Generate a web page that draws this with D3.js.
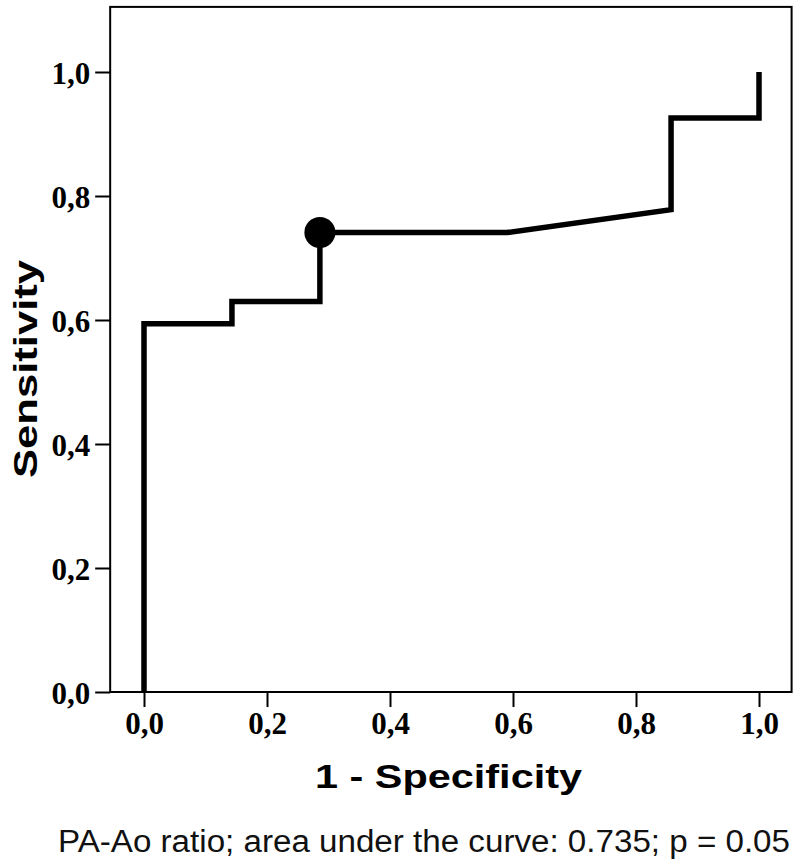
<!DOCTYPE html>
<html>
<head>
<meta charset="utf-8">
<script src="https://cdn.jsdelivr.net/npm/d3@7"></script>
<style>
  html, body { margin: 0; padding: 0; background: #fff; }
  svg { display: block; }
</style>
</head>
<body>
<svg id="chart" width="800" height="868"></svg>
<script>
// ROC curve points (1 - specificity, sensitivity)
const fpr = [0, 0, 0.143, 0.143, 0.286, 0.286, 0.59, 0.857, 0.857, 1, 1];
const tpr = [0, 0.594, 0.594, 0.63, 0.63, 0.741, 0.741, 0.778, 0.926, 0.926, 1];
// Optimal cut-off point
const cutX = [0.286];
const cutY = [0.741];
// Ticks
const xTicks = [0, 0.2, 0.4, 0.6, 0.8, 1.0];
const yTicks = [0, 0.2, 0.4, 0.6, 0.8, 1.0];
const tickLabel = v => v.toFixed(1).replace(".", ",");
const xTitle = "1 - Specificity";
const yTitle = "Sensitivity";
const caption = "PA-Ao ratio; area under the curve: 0.735; p = 0.05";

const svg = d3.select("#chart");
const x = d3.scaleLinear().domain([0, 1]).range([144, 759]);
const y = d3.scaleLinear().domain([0, 1]).range([692, 72]);

// frame extent in data units
const xMin = -0.055, xMax = 1.053, yMin = 0, yMax = 1.105;

// frame
svg.append("rect")
  .attr("x", x(xMin)).attr("y", y(yMax))
  .attr("width", x(xMax) - x(xMin)).attr("height", y(yMin) - y(yMax))
  .attr("fill", "none").attr("stroke", "#000").attr("stroke-width", 2);

// y axis
const yAxis = d3.axisLeft(y).tickValues(yTicks).tickFormat(tickLabel).tickSize(15).tickPadding(5);
const gy = svg.append("g").attr("transform", `translate(${x(xMin)},0)`).call(yAxis);
gy.select(".domain").remove();
gy.selectAll(".tick line").attr("stroke", "#000").attr("stroke-width", 2);
gy.selectAll(".tick text")
  .attr("font-family", "'Liberation Serif', 'Times New Roman', serif")
  .attr("font-weight", "bold").attr("font-size", 31).attr("fill", "#000")
  .attr("dy", "0.36em");

// x axis
const xAxis = d3.axisBottom(x).tickValues(xTicks).tickFormat(tickLabel).tickSize(15).tickPadding(5);
const gx = svg.append("g").attr("transform", `translate(0,${y(yMin)})`).call(xAxis);
gx.select(".domain").remove();
gx.selectAll(".tick line").attr("stroke", "#000").attr("stroke-width", 2);
gx.selectAll(".tick text")
  .attr("font-family", "'Liberation Serif', 'Times New Roman', serif")
  .attr("font-weight", "bold").attr("font-size", 31).attr("fill", "#000")
  .attr("dy", "0.72em");

// ROC curve
const pts = fpr.map((v, i) => [v, tpr[i]]);
const line = d3.line().x(d => x(d[0])).y(d => y(d[1]));
svg.append("path").datum(pts)
  .attr("d", line)
  .attr("fill", "none").attr("stroke", "#000")
  .attr("stroke-width", 5.5).attr("stroke-linejoin", "miter").attr("stroke-linecap", "butt");

// cut-off point
svg.selectAll("circle.cut").data(cutX.map((v, i) => [v, cutY[i]])).join("circle")
  .attr("class", "cut")
  .attr("cx", d => x(d[0])).attr("cy", d => y(d[1])).attr("r", 15.5).attr("fill", "#000");

// axis titles
svg.append("text")
  .attr("x", 448.5).attr("y", 788)
  .attr("text-anchor", "middle")
  .attr("font-family", "Arial, 'Liberation Sans', sans-serif")
  .attr("font-weight", "bold").attr("font-size", 33)
  .attr("textLength", 267).attr("lengthAdjust", "spacingAndGlyphs")
  .text(xTitle);

svg.append("text")
  .attr("transform", "translate(37,369) rotate(-90)")
  .attr("text-anchor", "middle")
  .attr("font-family", "Arial, 'Liberation Sans', sans-serif")
  .attr("font-weight", "bold").attr("font-size", 33)
  .attr("textLength", 218).attr("lengthAdjust", "spacingAndGlyphs")
  .text(yTitle);

// caption
svg.append("text")
  .attr("x", 58).attr("y", 852)
  .attr("font-family", "Arial, 'Liberation Sans', sans-serif")
  .attr("font-size", 31).attr("fill", "#111")
  .attr("textLength", 732).attr("lengthAdjust", "spacingAndGlyphs")
  .text(caption);
</script>
</body>
</html>
